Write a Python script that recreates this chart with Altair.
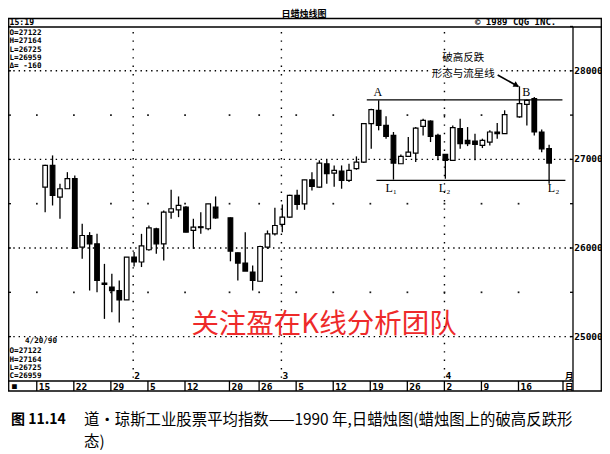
import altair as alt
import pandas as pd
import numpy as np

# ---------------- data ----------------
dates = [
    "1990-01-16", "1990-01-17", "1990-01-18", "1990-01-19", "1990-01-22", "1990-01-23",
    "1990-01-24", "1990-01-25", "1990-01-26", "1990-01-29", "1990-01-30", "1990-01-31",
    "1990-02-01", "1990-02-02", "1990-02-05", "1990-02-06", "1990-02-07", "1990-02-08",
    "1990-02-09", "1990-02-12", "1990-02-13", "1990-02-14", "1990-02-15", "1990-02-16",
    "1990-02-20", "1990-02-21", "1990-02-22", "1990-02-23", "1990-02-26", "1990-02-27",
    "1990-02-28",
    "1990-03-01", "1990-03-02", "1990-03-05", "1990-03-06", "1990-03-07", "1990-03-08",
    "1990-03-09", "1990-03-12", "1990-03-13", "1990-03-14", "1990-03-15", "1990-03-16",
    "1990-03-19", "1990-03-20", "1990-03-21", "1990-03-22", "1990-03-23", "1990-03-26",
    "1990-03-27", "1990-03-28", "1990-03-29", "1990-03-30",
    "1990-04-02", "1990-04-03", "1990-04-04", "1990-04-05", "1990-04-06", "1990-04-09",
    "1990-04-10", "1990-04-11", "1990-04-12", "1990-04-16", "1990-04-17", "1990-04-18",
    "1990-04-19", "1990-04-20",
]
opens = [
    26687, 26932, 26574, 26669, 26782, 26009, 26141, 26047, 25605, 25559, 25520, 25415,
    25898, 25842, 25980, 26217, 26047, 26404, 26431, 26461, 26198, 26240, 26217, 26461,
    26341, 25946, 25830, 25729, 25625, 26009, 26160,
    26266, 26348, 26593, 26499, 26770, 26687, 26951, 26845, 26868, 26763, 26895, 26970,
    27403, 27554, 27384, 27271, 26951, 27034, 27071, 27373, 27433, 27271,
    27056, 26989, 27347, 27215, 27207, 27158, 27196, 27309, 27290, 27480, 27622, 27686,
    27309, 27122,
]
highs = [
    26940, 27045, 26725, 26856, 26819, 26273, 26179, 26160, 25821, 25709, 25633, 25898,
    25955, 26160, 26254, 26228, 26424, 26658, 26582, 26470, 26330, 26404, 26499, 26582,
    26345, 25950, 26179, 25802, 26025, 26198, 26454,
    26491, 26600, 26658, 26770, 26856, 26990, 26996, 26932, 26932, 26951, 27034, 27410,
    27573, 27667, 27486, 27309, 27056, 27252, 27365, 27460, 27441, 27290,
    27060, 27384, 27460, 27365, 27290, 27234, 27328, 27410, 27554, 27825, 27675, 27705,
    27337, 27164,
]
lows = [
    26404, 26480, 26330, 26669, 25990, 25878, 25520, 25500, 25200, 25275, 25160, 25415,
    25790, 25785, 25970, 25935, 25860, 26330, 26348, 26179, 25990, 26160, 26200, 26330,
    25850, 25633, 25740, 25520, 25625, 25990, 26141,
    26179, 26341, 26431, 26431, 26650, 26680, 26725, 26690, 26669, 26744, 26883, 26958,
    27120, 27328, 27234, 26772, 26951, 27026, 26970, 27271, 27196, 26990,
    26782, 26989, 27120, 27150, 26990, 27128, 27158, 27234, 27290, 27470, 27384, 27271,
    27082, 26725,
]
closes = [
    26932, 26593, 26669, 26782, 25995, 26141, 26047, 25633, 25590, 25520, 25415, 25898,
    25842, 26023, 26228, 26047, 26404, 26443, 26480, 26179, 26235, 26230, 26499, 26341,
    25965, 25830, 25740, 25633, 26017, 26160, 26254,
    26348, 26593, 26491, 26770, 26695, 26958, 26839, 26876, 26763, 26876, 26970, 27403,
    27562, 27384, 27260, 26958, 27034, 27082, 27354, 27441, 27260, 27045,
    26989, 27358, 27177, 27177, 27170, 27215, 27309, 27290, 27505, 27630, 27667, 27309,
    27119, 26959,
]

price_levels = [25000, 26000, 27000, 28000]
price_labels = ["25000", "26000", "27000", "28000"]
half_levels = [25500, 26500, 27500]
week_starts = ["1990-01-15", "1990-01-22", "1990-01-29", "1990-02-05", "1990-02-12",
               "1990-02-20", "1990-02-26", "1990-03-05", "1990-03-12", "1990-03-19",
               "1990-03-26", "1990-04-02", "1990-04-09", "1990-04-16"]
week_labels = ["15", "22", "29", "5", "12", "20", "26", "5", "12", "19", "26", "2", "9", "16"]
month_starts = ["1990-02-01", "1990-03-01", "1990-04-02"]
month_labels = ["2", "3", "4"]

# pattern annotations (fractional trading-day index, price level)
line_names = ["A", "L"]
line_from = [44.4, 45.7]
line_to = [70.8, 71.2]
line_price = [27672, 26763]
mark_texts = ["A", "B", "L\u2081", "L\u2082", "L\u2082"]
mark_idx = [45.9, 65.9, 47.7, 54.9, 69.6]
mark_price = [27761, 27761, 26677, 26677, 26677]
note_lines = ["破高反跌", "形态与流星线"]
note_idx = [57.4, 57.4]
note_price = [28140, 27964]
arrow_from = (62.06, 27953)
arrow_to = (64.85, 27823)

# ---------------- geometry ----------------
W, H = 594, 446
OFF = 8
XS, XB = 7.538, 33.16 - OFF
YS, YB = 0.0886, 159.4 - OFF
x_dom = [(0 - XB) / XS, (W - XB) / XS]
y_dom = [27000 - (H - YB) / YS, 27000 + YB / YS]
xsc = alt.Scale(domain=x_dom, nice=False, zero=False)
ysc = alt.Scale(domain=y_dom, nice=False, zero=False)

def tidx(d):
    return int(np.busday_count("1990-01-15", d))

df = pd.DataFrame({"date": dates, "o": opens, "h": highs, "l": lows, "c": closes})
df["i"] = [tidx(d) for d in dates]

one = pd.DataFrame({"a": [0]})
MONO = "DejaVu Sans Mono"
CJK = "Noto Sans CJK SC"

def X(f="i"):
    return alt.X(f"{f}:Q", scale=xsc, axis=None)

def Y(f):
    return alt.Y(f"{f}:Q", scale=ysc, axis=None)

def ptext(s, x, y, **kw):
    return alt.Chart(one).mark_text(**kw).encode(
        x=alt.value(x), y=alt.value(y), text=alt.value(s))

def prule(x, y, x2, y2, **kw):
    kw.setdefault("color", "black")
    kw.setdefault("strokeWidth", 1.3)
    return alt.Chart(one).mark_rule(**kw).encode(
        x=alt.value(x), y=alt.value(y), x2=alt.value(x2), y2=alt.value(y2))

layers = []

# frame
PR = 565      # plot right border (chart px)
TOP = 10.5
layers += [
    prule(0, TOP, W, TOP),
    prule(0, 19, W, 19),
    prule(0.7, TOP, 0.7, 383),
    prule(PR, 19, PR, 383),
    prule(W - 0.7, TOP, W - 0.7, 383),
    prule(0, 373, PR, 373),
    prule(0, 383, W, 383),
]

# horizontal dotted grid
grid = pd.DataFrame({"p": price_levels, "lab": price_labels})
layers.append(alt.Chart(grid).mark_rule(color="black", strokeWidth=1.4, strokeDash=[1.4, 3.9]).encode(
    x=alt.value(0), x2=alt.value(PR), y=Y("p")))
# month dotted verticals
mdf = pd.DataFrame({"i": [tidx(d) - 0.12 for d in month_starts], "lab": month_labels})
layers.append(alt.Chart(mdf).mark_rule(color="black", strokeWidth=1.4, strokeDash=[1.4, 7]).encode(
    x=X(), y=alt.value(24), y2=alt.value(372)))
# sparse dots
dots = pd.DataFrame([(tidx(w) - 0.12, p) for w in week_starts for p in half_levels], columns=["i", "p"])
layers.append(alt.Chart(dots).mark_square(size=3, color="black", opacity=0.9).encode(x=X(), y=Y("p")))
# right axis ticks + labels
ticks = pd.DataFrame({"p": np.arange(25000, 28501, 500)})
layers.append(alt.Chart(ticks).mark_rule(color="black", strokeWidth=1.3).encode(
    x=alt.value(PR - 3), x2=alt.value(PR), y=Y("p")))
layers.append(alt.Chart(ticks).mark_rule(color="black", strokeWidth=1.3).encode(
    x=alt.value(0), x2=alt.value(3), y=Y("p")))
layers.append(alt.Chart(grid).mark_text(font=MONO, fontWeight="bold", fontSize=9.5, align="center",
                                         baseline="middle", color="black").encode(
    x=alt.value(580.5), y=Y("p"), text="lab:N"))

# candles
layers.append(alt.Chart(df).mark_rule(color="black", strokeWidth=1.3).encode(
    x=X(), y=Y("l"), y2=alt.Y2("h")))
layers.append(alt.Chart(df).mark_bar(size=4.6, stroke="black", strokeWidth=1.2).encode(
    x=X(), y=Y("o"), y2=alt.Y2("c"),
    fill=alt.condition("datum.c >= datum.o", alt.value("white"), alt.value("black"))))

# pattern lines and labels
ldf = pd.DataFrame({"n": line_names, "i": line_from, "i2": line_to, "p": line_price})
layers.append(alt.Chart(ldf).mark_rule(color="black", strokeWidth=1.3).encode(
    x=X(), x2=alt.X2("i2"), y=Y("p")))
mk = pd.DataFrame({"t": mark_texts, "i": mark_idx, "p": mark_price})
layers.append(alt.Chart(mk).mark_text(font="Liberation Serif", fontSize=12, color="black").encode(
    x=X(), y=Y("p"), text="t:N"))
# white backing under the annotation so the dotted 28000 line stops at the text
bk = pd.DataFrame({"i": [note_idx[1] - 4.6], "i2": [note_idx[1] + 4.6],
                   "p": [note_price[1] - 65], "p2": [note_price[1] + 65]})
layers.append(alt.Chart(bk).mark_rect(color="white").encode(
    x=X(), x2=alt.X2("i2"), y=Y("p"), y2=alt.Y2("p2")))
nt = pd.DataFrame({"t": note_lines, "i": note_idx, "p": note_price})
layers.append(alt.Chart(nt).mark_text(font=CJK, fontSize=10.5, color="black").encode(
    x=X(), y=Y("p"), text="t:N"))
adf = pd.DataFrame({"i": [arrow_from[0]], "p": [arrow_from[1]], "i2": [arrow_to[0]], "p2": [arrow_to[1]]})
layers.append(alt.Chart(adf).mark_rule(color="black", strokeWidth=1.6).encode(
    x=X(), y=Y("p"), x2=alt.X2("i2"), y2=alt.Y2("p2")))
hdf = pd.DataFrame({"i": [arrow_to[0] - 0.25], "p": [arrow_to[1] + 12]})
layers.append(alt.Chart(hdf).mark_point(shape="triangle-right", size=40, filled=True, color="black",
                                         opacity=1, angle=29).encode(x=X(), y=Y("p")))

# date strip
wdf = pd.DataFrame({"i": [tidx(w) - 0.13 for w in week_starts], "lab": week_labels})
layers.append(alt.Chart(wdf).mark_rule(color="black", strokeWidth=1.3).encode(
    x=X(), y=alt.value(373), y2=alt.value(383)))
layers.append(alt.Chart(wdf).mark_text(font=MONO, fontWeight="bold", fontSize=9.5, align="left",
                                        baseline="middle", dx=2).encode(
    x=X(), y=alt.value(378.5), text="lab:N"))
layers.append(alt.Chart(mdf).mark_text(font=MONO, fontWeight="bold", fontSize=9.5, align="left",
                                        baseline="middle", dx=1).encode(
    x=X(), y=alt.value(368), text="lab:N"))
layers += [
    prule(555, 373, 555, 383),
    ptext("■", 4, 378.5, font=MONO, fontSize=8, align="left", baseline="middle"),
    ptext("月", 557, 367.5, font=CJK, fontSize=8.5, fontWeight="bold", align="left", baseline="middle"),
    ptext("日", 557, 378.5, font=CJK, fontSize=8.5, fontWeight="bold", align="left", baseline="middle"),
]

# header / info texts
info_kw = dict(font=MONO, fontWeight="bold", fontSize=7.6, align="left", baseline="middle")
layers += [
    ptext("日蜡烛线图", 296, 6, font=CJK, fontSize=9, fontWeight="bold", align="center",
          baseline="middle"),
    ptext("15:19", 1.5, 14.8, font=MONO, fontWeight="bold", fontSize=8.2, align="left",
          baseline="middle"),
    ptext("© 1989 CQG INC.", 467, 14, font=MONO, fontWeight="bold", fontSize=9, align="left",
          baseline="middle"),
    ptext("O=27122", 1.5, 24.7, **info_kw),
    ptext("H=27164", 1.5, 33.1, **info_kw),
    ptext("L=26725", 1.5, 41.5, **info_kw),
    ptext("L=26959", 1.5, 49.9, **info_kw),
    ptext("Δ= -160", 1.5, 58.3, **info_kw),
    ptext("4/20/90", 17, 333, **info_kw),
    ptext("O=27122", 1.5, 343.3, **info_kw),
    ptext("H=27164", 1.5, 351.6, **info_kw),
    ptext("L=26725", 1.5, 359.9, **info_kw),
    ptext("C=26959", 1.5, 368.2, **info_kw),
]

# watermark
layers.append(ptext("关注盈在K线分析团队", 316, 317, font=CJK, fontSize=27.5, color="#ee2a2a",
                    align="center", baseline="middle"))

# caption
layers += [
    ptext("图 11.14", 3, 412, font=CJK, fontSize=14, fontWeight="bold", align="left", baseline="middle"),
    ptext("道・琼斯工业股票平均指数——1990 年,日蜡烛图(蜡烛图上的破高反跌形", 76, 412,
          font=CJK, fontSize=15.4, align="left", baseline="middle"),
    ptext("态)", 76, 434, font=CJK, fontSize=15.4, align="left", baseline="middle"),
]

chart = alt.layer(*layers).properties(
    width=W, height=H, autosize=alt.AutoSizeParams(type="none"), padding=0
).configure_view(stroke=None)

chart.save("out.html", embed_options={"renderer": "svg", "actions": False})
